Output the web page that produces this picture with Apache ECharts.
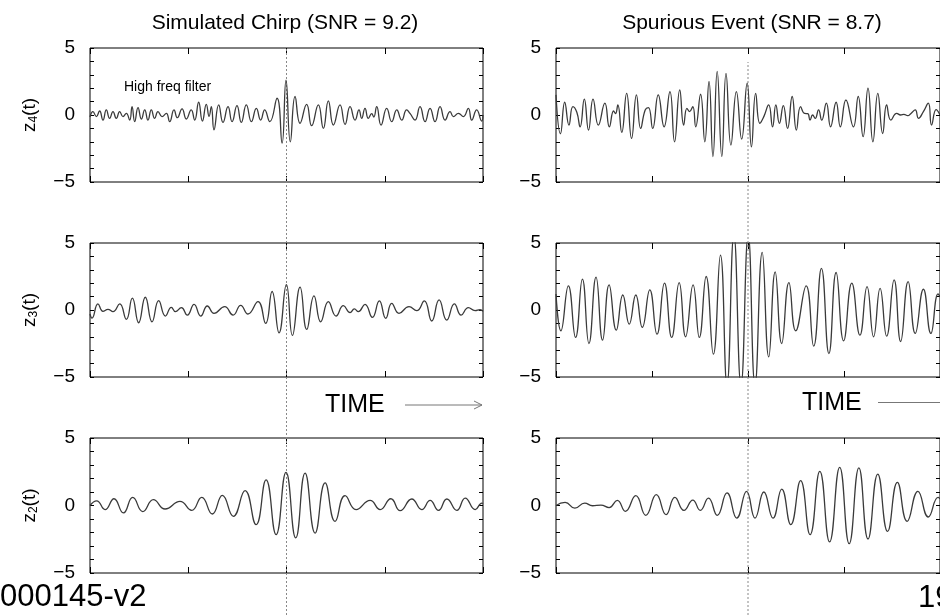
<!DOCTYPE html>
<html><head><meta charset="utf-8">
<script src="https://cdn.jsdelivr.net/npm/echarts@6/dist/echarts.min.js"></script>
<style>html,body{margin:0;padding:0;background:#fff}#c{width:940px;height:615px}</style>
</head><body><div id="c"></div>
<script>
// ---- data (time in arbitrary units 0..400, amplitude z) ----
const columnTitles = ['Simulated Chirp (SNR = 9.2)', 'Spurious Event (SNR = 8.7)'];
const rowSubscripts = ['4', '3', '2'];
const yTickLabels = [-5, 0, 5];
const eventTime = [200, 200];
const annotation = 'High freq filter';
const timeLabel = 'TIME';
const footerLeft = '000145-v2';
const footerRight = '19';

const chirpZ4 = [[0,-0.15],[3,0.25],[6.5,-0.12],[9.8,0.3],[13.2,-0.38],[16.6,0.38],[20,-0.25],[23.4,0.25],[26.8,-0.25],[30.2,0.25],[33.6,-0.12],[37,0.12],[40.4,-0.38],[42.8,0.62],[45.5,-0.5],[48.9,0.55],[52.3,-0.3],[55.7,0.38],[59,-0.38],[62.4,0.38],[65.8,-0.25],[69.2,0.25],[73.3,-0.12],[77.7,0.12],[81.1,-0.5],[85.5,0.38],[88.9,-0.2],[93.7,0.45],[98,-0.3],[103,0.38],[106.6,-0.38],[110.6,0.95],[114.4,-0.45],[118.4,0.8],[121.2,-0.1],[123.5,0.62],[126.2,-1.1],[131,0.75],[135.4,-0.55],[140.5,0.62],[144.6,-0.5],[149.6,0.7],[154,-0.55],[159.1,0.75],[164.3,-0.5],[169.3,0.5],[173.7,-0.38],[177.8,0.38],[183,-0.5],[190.4,1.25],[195.5,-2.1],[199.5,2.6],[203.9,-2.0],[208.7,1.38],[213.8,-0.62],[220.5,0.8],[225.6,-0.8],[232.4,0.75],[237.5,-1.0],[242.6,1.05],[247.7,-0.75],[254.5,0.75],[259.6,-0.7],[264.7,0.62],[269.8,-0.38],[273.8,0.38],[276.5,-0.25],[279.9,0.5],[283.3,-0.25],[286.7,0.1],[288.8,-0.15],[291.8,0.62],[296.2,-0.75],[302,0.5],[307.1,-0.5],[312.2,0.38],[317.3,-0.38],[322.3,0.38],[325.7,0.12],[330.8,-0.38],[335.9,0.62],[341,-0.5],[346.1,0.5],[351.2,-0.5],[356.3,0.62],[361.4,-0.38],[366.5,0.25],[369.9,-0.12],[375,0.12],[380,-0.12],[385.1,0.5],[388.5,-0.38],[393.6,0.38],[398.7,-0.45],[400,0]];

const chirpZ3 = [[0,-0.3],[2,-0.6],[8.1,0.45],[13.2,-0.1],[18.3,0.05],[23.4,-0.12],[30.2,0.45],[37,-0.7],[43.1,0.88],[49.5,-0.95],[56.3,0.95],[63.1,-0.88],[69.9,0.7],[76.7,-0.45],[82.8,0.2],[86.9,-0.12],[93,0.18],[99.1,-0.38],[105.9,0.42],[112.7,-0.45],[119.4,0.3],[126.2,-0.25],[137.1,0.25],[145.6,-0.38],[153.4,0.35],[160.8,-0.3],[171,0.62],[178.8,-1.0],[185.3,1.38],[192.4,-1.7],[199.9,1.9],[206,-1.9],[213.8,1.7],[220.6,-1.45],[228,1.05],[234.8,-0.88],[242.6,0.62],[250.4,-0.45],[257.9,0.32],[264.7,-0.2],[269.1,0.08],[273.1,-0.12],[279.9,0.42],[287.4,-0.55],[294.5,0.68],[301,-0.62],[307.1,0.5],[314.5,-0.25],[324.7,0.25],[332.5,-0.05],[340.3,0.68],[347.8,-0.82],[355.3,0.75],[363.1,-0.75],[370.9,0.45],[377.7,-0.38],[385.1,0.18],[391.9,-0.05],[397,0.02],[400,-0.1]];

const chirpZ2 = [[0,0],[6.8,0.35],[15.3,-0.3],[24.4,0.5],[34,-0.55],[43.5,0.6],[53.7,-0.45],[64.5,0.43],[76.4,-0.26],[91.6,0.3],[103.5,-0.36],[113.7,0.6],[124.5,-0.63],[134.7,0.75],[145.9,-0.8],[157.8,1.1],[169,-1.42],[179.2,1.9],[189.4,-2.16],[199.5,2.46],[209.4,-2.4],[218.9,2.4],[229.1,-2.04],[239.3,1.67],[249.5,-1.17],[259.6,0.73],[270.8,-0.3],[285.1,0.38],[295.3,-0.3],[306.2,0.5],[315.7,-0.38],[327.5,0.48],[337.7,-0.3],[346.2,0.38],[354.7,-0.36],[363.2,0.48],[373.4,-0.36],[381.9,0.55],[392.1,-0.3],[398.9,0.18],[400,0.15]];

const spurZ4 = [[0,1.5],[4.7,-1.4],[9.1,0.95],[13.5,-0.75],[17.6,0.62],[21.7,0.2],[25.1,-0.88],[29.5,1.18],[33.9,-1.12],[38.6,1.18],[44.1,-0.75],[50.9,0.88],[55.6,-0.88],[60,0.3],[62,0.1],[64.4,0.75],[68.5,-1.3],[73.6,1.62],[78.7,-1.75],[83.8,1.5],[88.2,-1.0],[92.9,0.38],[96.3,0.55],[100.7,-1.0],[106.5,1.5],[112.6,-0.88],[118.7,1.75],[123.5,-2.0],[128.9,1.88],[133,-0.75],[136.4,0.5],[139.1,0.25],[142.5,0.62],[145.5,-0.88],[150.6,1.55],[155,-2.0],[159.4,2.5],[163.5,-3.1],[167.9,3.25],[172.7,-3.1],[177.1,3.1],[182.2,-2.25],[187.9,1.75],[193.4,-1.8],[199.1,2.38],[203.6,-2.38],[208,1.62],[212.4,-0.62],[216.5,-0.12],[221.5,0.75],[225.6,-0.88],[229,0.75],[232.7,-0.62],[236.8,0.7],[241.2,-1.0],[246,1.38],[250.4,-1.12],[254.8,0.62],[258.9,0.12],[262.3,0.1],[264.6,-0.38],[267.3,0.0],[270,-0.25],[273.5,0.38],[276.8,-0.38],[281.6,0.88],[286,-0.88],[291.8,0.95],[296.2,-0.88],[302,1.12],[309.8,-0.88],[314.8,1.38],[319.9,-1.62],[325,2.0],[330.1,-2.0],[335.2,1.62],[340.3,-1.38],[344.4,0.75],[348.8,-0.38],[354.9,0.12],[359,0.0],[362.4,0.05],[366.4,-0.05],[369.8,0.12],[374.2,0.38],[377.6,-0.25],[382.7,0.25],[387.8,0.88],[391.2,-0.75],[396,0.4],[400,0]];

const spurZ3 = [[0,1.2],[5.1,-1.55],[12.9,1.8],[20.4,-2.05],[27.5,2.3],[34.3,-2.5],[41.7,2.45],[48.5,-2.25],[55.3,1.88],[62.8,-1.5],[69.6,1.12],[76.3,-1.05],[83.1,1.12],[89.9,-1.3],[97.7,1.5],[105.2,-1.8],[113,2.0],[120.5,-2.05],[128.3,2.05],[135,-2.0],[142.8,1.88],[149.3,-2.05],[156.4,2.5],[163.9,-3.3],[171.3,4.1],[178.1,-5.6],[185.3,5.6],[192.7,-5.6],[200.2,5.6],[207.3,-5.6],[214.8,4.3],[221.6,-3.5],[228.3,2.85],[235.1,-2.5],[242.6,2.05],[249.7,-1.55],[260.6,1.8],[268.4,-2.7],[276.5,3.1],[284.3,-3.25],[291.8,2.8],[299.6,-2.3],[308.1,2.0],[316.6,-1.88],[324,1.75],[330.8,-2.0],[337.6,1.62],[344.4,-1.95],[352.2,2.25],[359,-2.35],[366.8,2.12],[374.2,-1.75],[382.7,1.55],[390.5,-1.75],[398,1.2],[400,1.0]];

const spurZ2 = [[0,0],[9.5,0.23],[19.7,-0.2],[29.9,0.18],[38,-0.02],[46.8,0.03],[55.3,-0.15],[63.8,0.38],[72.3,-0.43],[83.1,0.73],[93.6,-0.73],[104.5,0.8],[114.7,-0.68],[123.8,0.6],[133.3,-0.36],[142.5,0.4],[150.3,-0.36],[158.8,0.55],[168,-0.73],[178.1,0.93],[188.3,-0.93],[198.5,1.05],[207.3,-0.93],[216.5,1.0],[226,-0.93],[235.1,1.22],[244.6,-1.42],[254.8,1.84],[264.7,-2.16],[274.8,2.53],[285,-2.7],[295.5,2.83],[305.4,-2.83],[315.5,2.78],[325,-2.48],[335.2,2.33],[345.4,-1.91],[355.6,1.72],[365.8,-1.17],[377,1.05],[387.8,-0.85],[398,0.6],[400,0.5]];

// ---- layout ----
const FONT = '"Liberation Sans", Arial, Helvetica, sans-serif';
const rowTops = [48, 243, 438];
const rowHeights = [134, 134, 135];
const colLefts = [90, 556];
const colWidth = 393;
const markerTops = [48, 62];

const panels = [
  {data: chirpZ4, row: 0, col: 0}, {data: spurZ4, row: 0, col: 1},
  {data: chirpZ3, row: 1, col: 0}, {data: spurZ3, row: 1, col: 1},
  {data: chirpZ2, row: 2, col: 0}, {data: spurZ2, row: 2, col: 1}
];

const grid = [], xAxis = [], yAxis = [], series = [];
const fmtY = v => yTickLabels.includes(v) ? (v < 0 ? '\u2212' + Math.abs(v) : String(v)) : '';

panels.forEach((p, i) => {
  grid.push({left: colLefts[p.col], top: rowTops[p.row], width: colWidth, height: rowHeights[p.row],
    show: true, borderColor: '#000', borderWidth: 1, backgroundColor: 'transparent'});
  const xb = {gridIndex: i, type: 'value', min: 0, max: 400, interval: 100,
    axisLine: {show: false, onZero: false}, axisTick: {inside: true, length: 6, lineStyle: {color: '#000'}},
    axisLabel: {show: false}, splitLine: {show: false}};
  xAxis.push(Object.assign({position: 'bottom'}, xb), Object.assign({position: 'top'}, xb));
  const yb = {gridIndex: i, type: 'value', min: -5, max: 5, interval: 1,
    axisLine: {show: false, onZero: false}, axisTick: {inside: true, length: 4, lineStyle: {color: '#000'}},
    splitLine: {show: false}};
  const yl = Object.assign({position: 'left',
    axisLabel: {formatter: fmtY, fontSize: 19, color: '#000', fontFamily: FONT, margin: 15}}, yb);
  if (p.col === 0) {
    yl.name = '{b|z}{s|' + rowSubscripts[p.row] + '}{b|(t)}';
    yl.nameLocation = 'middle';
    yl.nameGap = 50;
    yl.nameRotate = 90;
    yl.nameTextStyle = {rich: {
      b: {fontSize: 19, color: '#000', fontFamily: FONT},
      s: {fontSize: 12, color: '#000', fontFamily: FONT, padding: [8, 0, 0, 0]}
    }};
  }
  const yr = Object.assign({position: 'right', axisLabel: {show: false}}, yb);
  yAxis.push(yl, yr);
  series.push({type: 'line', xAxisIndex: 2 * i, yAxisIndex: 2 * i, data: p.data,
    smooth: 0.5, symbol: 'none', clip: true, silent: true,
    lineStyle: {color: '#3a3a3a', width: 1.3}});
});

// dotted event markers spanning each column
[0, 1].forEach(c => {
  const gi = grid.length;
  grid.push({left: colLefts[c], width: colWidth, top: markerTops[c], bottom: 0, show: false});
  xAxis.push({gridIndex: gi, type: 'value', min: 0, max: 400, show: false});
  yAxis.push({gridIndex: gi, type: 'value', min: 0, max: 1, show: false});
  series.push({type: 'line', xAxisIndex: xAxis.length - 1, yAxisIndex: yAxis.length - 1,
    data: [[eventTime[c], 0], [eventTime[c], 1]], symbol: 'none', silent: true, z: 1,
    lineStyle: {color: '#888', width: 1, type: [2, 2]}});
});

const txt = (text, x, y, size, align, color) => ({type: 'text', x, y, silent: true,
  style: {text, fontSize: size, fontFamily: FONT, fill: color || '#000',
    align: align, textAlign: align, verticalAlign: 'middle', textVerticalAlign: 'middle'}});

const graphic = [
  txt(columnTitles[0], 285, 23, 21, 'center'),
  txt(columnTitles[1], 752, 23, 21, 'center'),
  txt(annotation, 124, 87, 14, 'left'),
  txt(timeLabel, 325, 405, 25, 'left'),
  txt(timeLabel, 802, 403, 25, 'left'),
  {type: 'line', silent: true, shape: {x1: 405, y1: 405, x2: 482, y2: 405}, style: {stroke: '#777', lineWidth: 1}},
  {type: 'polyline', silent: true, shape: {points: [[474, 401], [482, 405], [474, 409]]}, style: {stroke: '#777', lineWidth: 1, fill: null}},
  {type: 'line', silent: true, shape: {x1: 878, y1: 402.5, x2: 945, y2: 402.5}, style: {stroke: '#777', lineWidth: 1}},
  txt(footerLeft, 0, 597, 31, 'left'),
  txt(footerRight, 918, 598, 31, 'left')
];

const chart = echarts.init(document.getElementById('c'), null, {renderer: 'canvas'});
chart.setOption({animation: false, backgroundColor: '#fff', grid, xAxis, yAxis, series, graphic});
</script></body></html>
